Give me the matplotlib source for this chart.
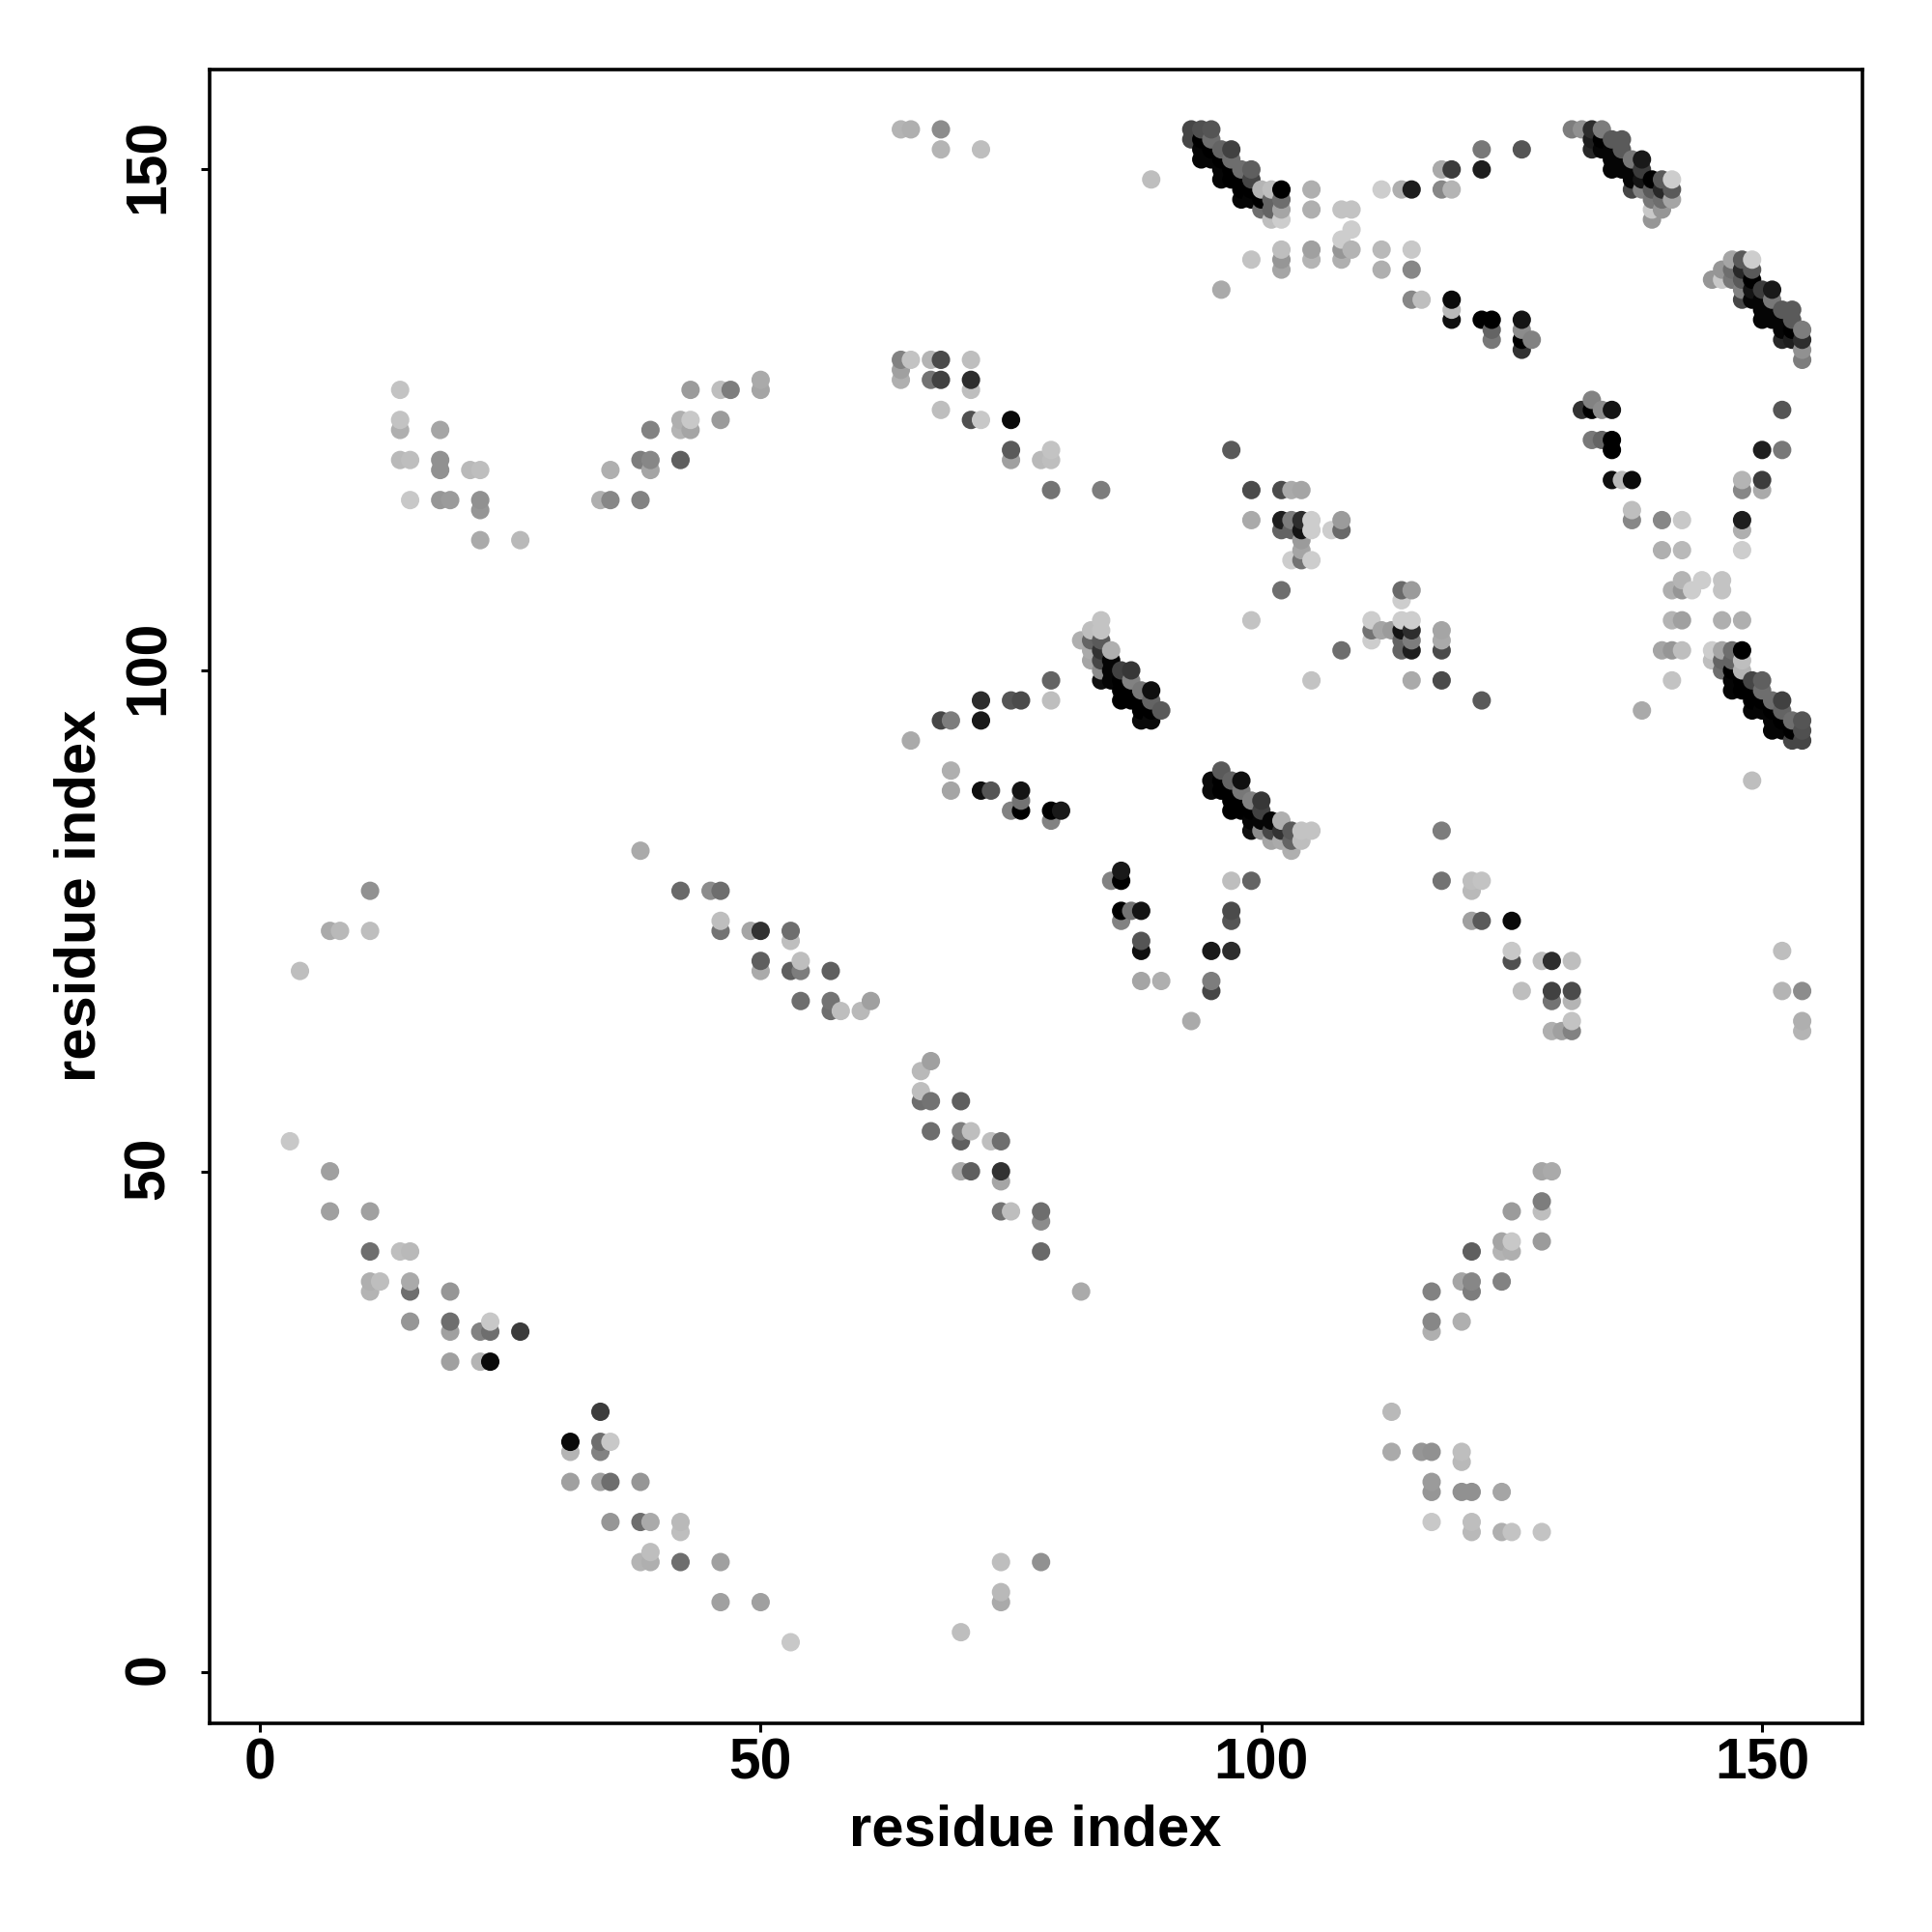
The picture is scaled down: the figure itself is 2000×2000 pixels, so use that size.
import numpy as np
import matplotlib
matplotlib.use("Agg")
import matplotlib.pyplot as plt
from matplotlib.transforms import ScaledTranslation

plt.rcParams['font.family'] = ['Liberation Sans', 'DejaVu Sans']

res_i = [3, 4, 7,7,7, 8, 11,11,11,11,11,11, 12, 14,14,14,14,14, 15,15,15,15,15,15,
 18,18,18,18, 19,19,19,19,19, 21, 22,22,22,22,22,22, 23,23,23, 26,26, 34, 35,35, 38,38,38,
 39,39,39, 42,42,42,42, 43,43,43, 45, 46,46,46,46,46, 47, 49, 50,50,50,50,50, 53,53,53,
 54,54,54, 57,57,57, 58, 60, 61, 64,64,64,64, 65,65,65, 67,67, 68,68,68,68,68,68,
 69,69,69, 71,71,71,71, 72,72,72,72,72, 73, 75,75,75,75,75, 76,76,76,76, 78,
 79,79,79,79,79,79,79, 80, 82, 83,83,83,83, 84,84,84,84,84,84,84,84, 85,85,85,85,
 86,86,86,86, 87,87,87,87, 88,88,88,88, 89,89,89,89,89, 90, 93,93, 94,94,94,94,
 95,95,95,95, 96,96,96,96,96, 97,97,97,97,97, 98,98,98,98, 99,99,99,99,99,99,99,99,
 100,100,100, 101,101,101,101, 102,102,102,102,102,102,102,102,102,102,102,
 103,103,103,103, 104,104,104,104,104,104, 105,105,105,105,105,105,105, 107,
 108,108,108,108,108,108, 109,109,109, 112,112,112, 114, 115,115,115,115, 116,
 118,118, 119,119,119,119,119, 122,122,122, 123,123,123, 126,126,126,126,126, 127,
 131, 132, 133,133,133, 134,134,134, 135,135,135,135, 136,136,136,136,
 137,137,137,137, 138,138,138,138, 139,139,139,139,139, 140,140,140,140, 141,141,141]

res_j = [53, 70, 46,50,74, 74, 38,39,42,46,74,78, 39, 42,121,124,125,128, 35,38,39,42,117,121,
 117,120,121,124, 31,34,35,38,117, 120, 31,34,113,116,117,120, 31,34,35, 34,113, 117, 117,120, 82,117,121,
 120,121,124, 78,121,124,125, 124,125,128, 78, 74,75,78,125,128, 128, 74, 70,71,74,128,129, 70,73,74,
 67,70,71, 66,67,70, 66, 66, 67, 129,130,131,154, 93,131,154, 129,131, 95,126,129,131,152,154,
 88,90,95, 125,128,129,131, 88,95,97,125,152, 88, 86,97,121,122,125, 86,87,88,97, 121,
 85,86,97,99,118,121,122, 86, 103, 101,102,103,104, 99,100,101,102,103,104,105,118, 99,100,101,102,
 97,98,99,100, 97,98,99,100, 95,96,97,98, 95,96,97,98,149, 96, 153,154, 151,152,153,154,
 151,152,153,154, 138,149,150,151,152, 122,149,150,151,152, 147,148,149,150, 105,115,118,141,147,148,149,150,
 146,147,148, 145,146,147,148, 108,114,115,118,140,141,142,145,146,147,148,
 111,114,115,118, 111,112,113,114,115,118, 111,114,115,141,142,146,148, 114,
 114,115,141,142,143,146, 142,144,146, 140,142,148, 148, 137,140,142,148, 137,
 148,150, 135,136,137,148,150, 135,150,152, 133,134,135, 132,133,134,135,152, 133,
 154, 154, 152,153,154, 152,153,154, 150,151,152,153, 150,151,152,153,
 148,149,150,151, 148,149,150,151, 145,146,147,148,149, 146,147,148,149, 147,148,149]

shade = [200, 190, 160,160,170, 185, 180,175,110,160,190,145, 190, 190,185,175,195,195, 150,110,170,185,200,190,
 150,145,145,165, 160,160,110,150,155, 185, 180,130,170,150,145,190, 10,110,200, 60,185, 175, 135,175, 170,130,125,
 165,135,130, 105,95,180,175, 165,200,155, 140, 115,190,110,155,190, 125, 165, 170,95,50,165,170, 95,190,110,
 110,125,190, 110,115,95, 190, 185, 160, 175,160,130,180, 170,195,175, 115,180, 70,190,65,75,180,140,
 165,175,125, 80,190,45,190, 15,25,45,200,190, 85, 130,85,160,90,10, 0,115,20,75, 185,
 130,0,190,100,115,190,195, 25, 175, 165,170,100,190, 15,140,70,50,90,195,195,125, 5,5,5,175,
 0,0,0,65, 0,0,130,55, 10,0,0,120, 10,0,100,15,190, 90, 70,70, 5,5,0,80,
 5,0,110,85, 170,5,5,0,100, 90,0,0,110,65, 5,0,0,110, 195,170,75,195,5,0,70,95,
 110,0,180, 190,100,100,190, 110,100,30,75,165,150,190,205,165,110,0,
 205,100,125,170, 115,165,155,20,45,165, 205,205,205,180,160,175,175, 205,
 105,155,175,150,205,195, 180,205,195, 175,185,205, 175, 135,135,200,30, 190,
 135,170, 15,185,10,180,60, 0,30,120, 120,100,0, 50,0,140,20,85, 130,
 125, 145, 40,30,45, 5,0,125, 5,5,5,90, 5,5,90,90,
 70,5,5,120, 130,20,60,25, 150,200,120,90,0, 150,110,40,90, 165,90,205]

tick_values = [0, 50, 100, 150]
axis_name = "residue index"

assert len(res_i) == len(res_j) == len(shade), (len(res_i), len(res_j), len(shade))

# the map is symmetric: draw both triangles, ordered by x then y
x = np.array(res_i + res_j)
y = np.array(res_j + res_i)
g = np.array(shade + shade)
order = np.lexsort((y, x))
x, y, g = x[order], y[order], g[order]
colors = np.repeat((g / 255.0)[:, None], 3, axis=1)

fig = plt.figure(figsize=(10, 10), dpi=200)
ax = fig.add_axes([216.5/2000, 1 - 1783.5/2000, (1927.5-216.5)/2000, (1783.5-71.5)/2000])
ax.scatter(x, y, s=47, c=colors, linewidths=0, zorder=3)
ax.set_xlim(-5.07, 159.97)
ax.set_ylim(-5.05, 160.02)
ax.set_xticks(tick_values)
ax.set_yticks(tick_values)
ax.tick_params(axis='x', length=3.4, width=1.1, labelsize=21.2, pad=2)
ax.tick_params(axis='y', length=3.4, width=1.1, labelsize=21.2, pad=9)
shift_up = ScaledTranslation(0, 1.1/72, fig.dpi_scale_trans)
for lab in ax.get_xticklabels():
    lab.set_fontweight('bold')
for lab in ax.get_yticklabels():
    lab.set_fontweight('bold')
    lab.set_rotation(90)
    lab.set_va('center')
    lab.set_transform(lab.get_transform() + shift_up)
for sp in ax.spines.values():
    sp.set_linewidth(1.3)
ax.set_xlabel(axis_name, fontsize=21.5, fontweight='bold', labelpad=5.2)
ax.set_ylabel(axis_name, fontsize=21.5, fontweight='bold', labelpad=6)
fig.savefig("out.png", dpi=200, facecolor='white')
